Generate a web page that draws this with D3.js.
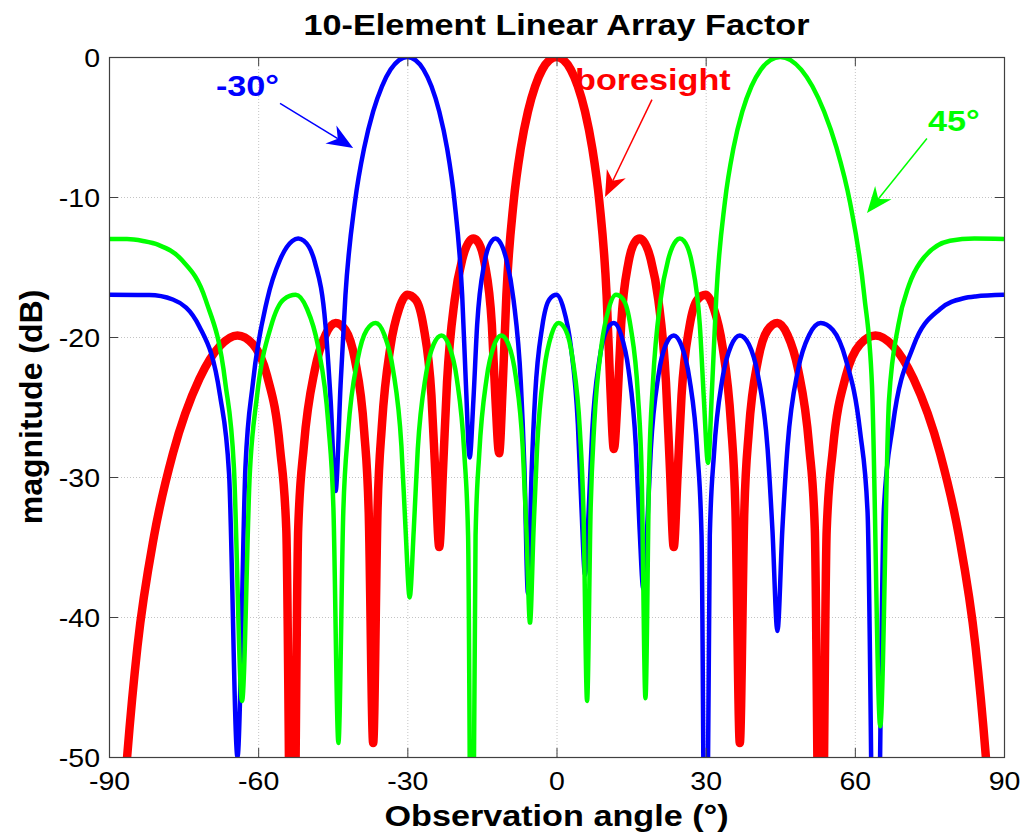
<!DOCTYPE html>
<html>
<head>
<meta charset="utf-8">
<script src="https://cdn.jsdelivr.net/npm/d3@7"></script>
<style>
  body { margin: 0; background: #fff; }
  svg text { font-family: "Liberation Sans", Arial, Helvetica, sans-serif; }
</style>
</head>
<body>
<div id="chart"></div>
<script>

// tick values
var xTicks = [-90, -60, -30, 0, 30, 60, 90];
var yTicks = [0, -10, -20, -30, -40, -50];

// [angle (deg), magnitude (dB)]
var boresight = [
  [-90, -70], [-86.38, -50.1], [-84.27, -42.1], [-80.93, -34.2], [-77.16, -28.34],
  [-71.81, -22.98], [-67.67, -20.63], [-64.16, -19.89], [-61.05, -20.52], [-58.21, -22.77],
  [-55.59, -28.01], [-54.34, -33.8], [-53.13, -70], [-51.95, -33.7], [-50.81, -27.79],
  [-48.59, -22.32], [-46.47, -19.85], [-44.43, -19.0], [-42.46, -19.5], [-40.54, -21.63],
  [-38.68, -26.74], [-37.77, -32.5], [-36.87, -49], [-35.98, -32.2], [-35.1, -26.24],
  [-33.37, -20.63], [-31.67, -18.0], [-30, -16.99], [-28.36, -17.32], [-26.74, -19.26],
  [-25.15, -24.18], [-24.36, -29.8], [-23.58, -35], [-22.8, -29.3], [-22.02, -23.24],
  [-20.49, -17.37], [-18.97, -14.47], [-17.46, -13.14], [-16.71, -12.97], [-15.96, -13.13],
  [-14.48, -14.67], [-13.0, -19.13], [-12.27, -24.5], [-11.54, -28.3], [-10.81, -23.45],
  [-10.08, -17.02], [-8.63, -10.37], [-7.18, -6.49], [-5.74, -3.89], [-4.3, -2.09],
  [-2.87, -0.9], [-1.43, -0.22], [0, 0],
  [1.43, -0.22], [2.87, -0.9], [4.3, -2.09], [5.74, -3.89], [7.18, -6.49],
  [8.63, -10.37], [10.08, -17.02], [10.81, -23.45], [11.54, -28], [12.27, -24.5],
  [13.0, -19.13], [14.48, -14.67], [15.96, -13.13], [16.71, -12.97], [17.46, -13.14],
  [18.97, -14.47], [20.49, -17.37], [22.02, -23.24], [22.8, -29.3], [23.58, -35],
  [24.36, -29.8], [25.15, -24.18], [26.74, -19.26], [28.36, -17.32], [30, -16.99],
  [31.67, -18.0], [33.37, -20.63], [35.1, -26.24], [35.98, -32.2], [36.87, -49],
  [37.77, -32.5], [38.68, -26.74], [40.54, -21.63], [42.46, -19.5], [44.43, -19.0],
  [46.47, -19.85], [48.59, -22.32], [50.81, -27.79], [51.95, -33.7], [53.13, -70],
  [54.34, -33.8], [55.59, -28.01], [58.21, -22.77], [61.05, -20.52], [64.16, -19.89],
  [67.67, -20.63], [71.81, -22.98], [77.16, -28.34], [80.93, -34.2], [84.27, -42.1],
  [86.38, -50.1], [90, -70]
];

var steerMinus30 = [
  [-90, -16.99], [-84.27, -17.0], [-81.89, -17.0], [-77.16, -17.32], [-71.81, -19.26],
  [-67.67, -24.18], [-65.85, -29.8], [-64.16, -50], [-62.56, -29.3], [-61.04, -23.24],
  [-58.21, -17.37], [-55.59, -14.47], [-53.13, -13.14], [-51.95, -12.97], [-50.81, -13.13],
  [-48.59, -14.67], [-46.47, -19.13], [-45.43, -24.5], [-44.43, -31], [-43.43, -23.45],
  [-42.45, -17.02], [-40.54, -10.37], [-38.68, -6.49], [-36.87, -3.89], [-35.1, -2.09],
  [-33.37, -0.9], [-31.67, -0.22], [-30, 0], [-28.36, -0.22], [-26.74, -0.9],
  [-25.15, -2.09], [-23.58, -3.89], [-22.02, -6.49], [-20.49, -10.37], [-18.97, -17.02],
  [-18.21, -23.45], [-17.46, -28.6], [-16.71, -24.5], [-15.96, -19.13], [-14.48, -14.67],
  [-13.0, -13.13], [-12.27, -12.97], [-11.54, -13.14], [-10.08, -14.47], [-8.63, -17.37],
  [-7.18, -23.24], [-6.46, -29.3], [-5.74, -38.3], [-5.02, -29.8], [-4.3, -24.18],
  [-2.87, -19.26], [-1.43, -17.32], [0, -16.99], [1.43, -18.0], [2.87, -20.63],
  [4.3, -26.24], [5.02, -32.2], [5.74, -37], [6.46, -32.5], [7.18, -26.74],
  [8.63, -21.63], [10.08, -19.5], [11.54, -19.0], [13.0, -19.85], [14.48, -22.32],
  [15.96, -27.79], [16.71, -33.7], [17.46, -38], [18.21, -33.8], [18.97, -28.01],
  [20.49, -22.77], [22.02, -20.52], [23.58, -19.89], [25.15, -20.63], [26.74, -22.98],
  [28.36, -28.34], [29.17, -34.2], [30, -70], [30.83, -34.2], [31.67, -28.34],
  [33.37, -22.98], [35.1, -20.63], [36.87, -19.89], [38.68, -20.52], [40.54, -22.77],
  [42.46, -28.01], [43.43, -33.8], [44.43, -41], [45.43, -33.7], [46.47, -27.79],
  [48.59, -22.32], [50.81, -19.85], [53.13, -19.0], [55.59, -19.5], [58.21, -21.63],
  [61.05, -26.74], [62.56, -32.5], [64.16, -70], [65.85, -32.2], [67.67, -26.24],
  [71.81, -20.63], [77.16, -18.0], [81.89, -17.23], [84.27, -17.1], [90, -16.99]
];

var steer45 = [
  [-90, -13.0], [-86.38, -13.0], [-83.17, -13.14], [-80.06, -13.42], [-75.44, -14.47],
  [-70.54, -17.37], [-66.62, -23.24], [-64.88, -29.3], [-63.24, -46], [-61.69, -29.8],
  [-60.22, -24.18], [-57.44, -19.26], [-54.87, -17.32], [-52.45, -16.99], [-50.16, -18.0],
  [-47.98, -20.63], [-45.88, -26.24], [-44.87, -32.2], [-43.86, -49], [-42.88, -32.5],
  [-41.91, -26.74], [-40.01, -21.63], [-38.17, -19.5], [-36.37, -19.0], [-34.61, -19.85],
  [-32.88, -22.32], [-31.19, -27.79], [-30.36, -33.7], [-29.53, -38.6], [-28.71, -33.8],
  [-27.9, -28.01], [-26.29, -22.77], [-24.7, -20.52], [-23.14, -19.89], [-21.59, -20.63],
  [-20.05, -22.98], [-18.54, -28.34], [-17.78, -34.2], [-17.03, -70], [-16.28, -34.2],
  [-15.54, -28.34], [-14.06, -22.98], [-12.59, -20.63], [-11.12, -19.89], [-9.67, -20.52],
  [-8.22, -22.77], [-6.77, -28.01], [-6.05, -33.8], [-5.33, -40.4], [-4.61, -33.7],
  [-3.89, -27.79], [-2.46, -22.32], [-1.03, -19.85], [0.41, -19.0], [1.84, -19.5],
  [3.27, -21.63], [4.71, -26.74], [5.43, -32.5], [6.15, -46], [6.87, -32.2],
  [7.59, -26.24], [9.04, -20.63], [10.49, -18.0], [11.95, -16.99], [13.42, -17.32],
  [14.9, -19.26], [16.39, -24.18], [17.13, -29.8], [17.89, -45.8], [18.64, -29.3],
  [19.4, -23.24], [20.92, -17.37], [22.46, -14.47], [24.02, -13.14], [24.81, -12.97],
  [25.6, -13.13], [27.2, -14.67], [28.82, -19.13], [29.65, -24.5], [30.47, -29],
  [31.31, -23.45], [32.15, -17.02], [33.86, -10.37], [35.6, -6.49], [37.38, -3.89],
  [39.21, -2.09], [41.09, -0.9], [43.02, -0.22], [45, 0], [47.07, -0.22],
  [49.22, -0.9], [51.46, -2.09], [53.82, -3.89], [56.33, -6.49], [59.02, -10.37],
  [61.89, -17.02], [63.45, -23.45], [65.11, -47.8], [66.87, -24.5], [68.76, -19.13],
  [70.84, -16.34], [73.16, -14.67], [79.14, -13.13], [84.04, -12.97], [90, -13.0]
];

// drawn in this order: red underneath, green on top
var series = [
  { name: 'boresight', color: '#ff0000', width: 8.5, values: boresight },
  { name: '-30', color: '#0000ff', width: 4.5, values: steerMinus30 },
  { name: '45', color: '#00ff00', width: 4.5, values: steer45 }
];

// text callouts, in data units (angle, dB)
var notes = [
  { text: '-30°', color: '#0000ff', tx: -68.5, ty: -2.79, x0: -55.6, y0: -3.32, x1: -40.9, y1: -6.5 },
  { text: 'boresight', color: '#ff0000', tx: 3.72, ty: -2.36, x0: 19.2, y0: -3.04, x1: 9.76, y1: -10 },
  { text: '45°', color: '#00ff00', tx: 74.7, ty: -5.25, x0: 74.5, y0: -5.82, x1: 62.45, y1: -11.14 }
];

var margin = { top: 57, right: 19, bottom: 77, left: 109 };
var width = 1023 - margin.left - margin.right,
    height = 834 - margin.top - margin.bottom;

var stretch = 1.14;   // the text in the picture is a bit wide
var axisColor = '#404040';

var svg = d3.select('#chart').append('svg')
  .attr('width', width + margin.left + margin.right)
  .attr('height', height + margin.top + margin.bottom);

svg.append('rect')
  .attr('width', '100%').attr('height', '100%')
  .attr('fill', '#fff');

var g = svg.append('g')
  .attr('transform', 'translate(' + margin.left + ',' + margin.top + ')');

var x = d3.scaleLinear().domain([-90, 90]).range([0, width]);
var y = d3.scaleLinear().domain([-50, 0]).range([height, 0]);

// GRID
g.append('g').selectAll('line')
  .data(xTicks.slice(1, -1))
  .enter().append('line')
  .attr('x1', function(d) { return x(d) + 0.5; })
  .attr('x2', function(d) { return x(d) + 0.5; })
  .attr('y1', 0).attr('y2', height)
  .attr('stroke', '#c4c4c4')
  .attr('stroke-dasharray', '1,2');

g.append('g').selectAll('line')
  .data(yTicks.slice(1, -1))
  .enter().append('line')
  .attr('y1', function(d) { return y(d) + 0.5; })
  .attr('y2', function(d) { return y(d) + 0.5; })
  .attr('x1', 0).attr('x2', width)
  .attr('stroke', '#c4c4c4')
  .attr('stroke-dasharray', '1,2');

// CURVES
svg.append('defs').append('clipPath')
  .attr('id', 'plot-clip')
  .append('rect')
  .attr('width', width).attr('height', height);

var line = d3.line()
  .x(function(d) { return x(d[0]); })
  .y(function(d) { return y(d[1]); })
  .curve(d3.curveMonotoneX);

g.append('g')
  .attr('clip-path', 'url(#plot-clip)')
  .selectAll('path')
  .data(series)
  .enter().append('path')
  .attr('d', function(d) { return line(d.values); })
  .attr('fill', 'none')
  .attr('stroke', function(d) { return d.color; })
  .attr('stroke-width', function(d) { return d.width; })
  .attr('stroke-linejoin', 'round');

// AXES (ticks point inward, like a matlab box)
function styleAxis(sel) {
  sel.select('.domain').remove();
  sel.selectAll('.tick line').attr('stroke', axisColor);
  sel.attr('font-size', 25)
     .attr('font-family', '"Liberation Sans", Arial, sans-serif');
  sel.selectAll('.tick text').attr('fill', '#000');
}

var gx = g.append('g')
  .attr('transform', 'translate(0,' + height + ')')
  .call(d3.axisBottom(x).tickValues(xTicks).tickSize(-9).tickSizeOuter(0)
    .tickFormat(function(d) { return d; }))
  .call(styleAxis);
gx.selectAll('.tick text')
  .attr('y', 33)
  .attr('dy', null)
  .attr('transform', 'scale(' + stretch + ',1)');

g.append('g')
  .call(d3.axisTop(x).tickValues(xTicks).tickSize(-9).tickSizeOuter(0).tickFormat(''))
  .call(styleAxis);

var gy = g.append('g')
  .call(d3.axisLeft(y).tickValues(yTicks).tickSize(-9).tickSizeOuter(0)
    .tickFormat(function(d) { return d; }))
  .call(styleAxis);
gy.selectAll('.tick text')
  .attr('x', -9 / stretch)
  .attr('dy', '0.36em')
  .attr('transform', 'scale(' + stretch + ',1)');

g.append('g')
  .attr('transform', 'translate(' + width + ',0)')
  .call(d3.axisRight(y).tickValues(yTicks).tickSize(-9).tickSizeOuter(0).tickFormat(''))
  .call(styleAxis);

g.append('rect')
  .attr('x', 0.5).attr('y', 0.5)
  .attr('width', width).attr('height', height)
  .attr('fill', 'none')
  .attr('stroke', axisColor)
  .attr('stroke-width', 1.2);

// TITLES
g.append('g')
  .attr('transform', 'translate(' + (width / 2) + ',-22)')
  .append('text')
  .attr('transform', 'scale(' + stretch + ',1)')
  .attr('text-anchor', 'middle')
  .attr('font-size', 30)
  .attr('font-weight', 'bold')
  .text('10-Element Linear Array Factor');

g.append('g')
  .attr('transform', 'translate(' + (width / 2) + ',' + (height + 69) + ')')
  .append('text')
  .attr('transform', 'scale(' + stretch + ',1)')
  .attr('text-anchor', 'middle')
  .attr('font-size', 30)
  .attr('font-weight', 'bold')
  .text('Observation angle (°)');

g.append('text')
  .attr('transform', 'translate(' + (42 - margin.left) + ',' + (height / 2) + ') rotate(-90)')
  .attr('text-anchor', 'middle')
  .attr('font-size', 32)
  .attr('font-weight', 'bold')
  .text('magnitude (dB)');

// CALLOUTS
var headLen = 26, headHalf = 10.5, notch = 18;

notes.forEach(function(n) {
  var sx = x(n.x0), sy = y(n.y0), ex = x(n.x1), ey = y(n.y1);
  var len = Math.sqrt((ex - sx) * (ex - sx) + (ey - sy) * (ey - sy));
  var ux = (ex - sx) / len, uy = (ey - sy) / len;
  var nx = -uy, ny = ux;

  g.append('line')
    .attr('x1', sx).attr('y1', sy)
    .attr('x2', ex - notch * ux).attr('y2', ey - notch * uy)
    .attr('stroke', n.color)
    .attr('stroke-width', 1.5);

  var head = [
    [ex, ey],
    [ex - headLen * ux + headHalf * nx, ey - headLen * uy + headHalf * ny],
    [ex - notch * ux, ey - notch * uy],
    [ex - headLen * ux - headHalf * nx, ey - headLen * uy - headHalf * ny]
  ];
  g.append('polygon')
    .attr('points', head.map(function(p) { return p.join(','); }).join(' '))
    .attr('fill', n.color);

  g.append('g')
    .attr('transform', 'translate(' + x(n.tx) + ',' + y(n.ty) + ')')
    .append('text')
    .attr('transform', 'scale(' + stretch + ',1)')
    .attr('font-size', 30)
    .attr('font-weight', 'bold')
    .attr('fill', n.color)
    .text(n.text);
});

</script>
</body>
</html>
